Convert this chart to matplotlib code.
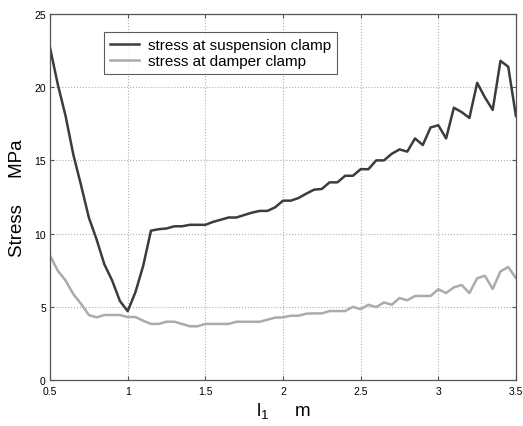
import numpy as np
import matplotlib
matplotlib.use('Agg')
import matplotlib.pyplot as plt

plt.rcParams['font.family'] = ['Liberation Sans', 'DejaVu Sans']

# span length l1 (m), sampled every 0.05 m (last point lies past the axis edge)
l1 = np.round(np.arange(0.5, 3.5501, 0.05), 2)

suspension = [22.7, 20.2, 18.05, 15.4, 13.3, 11.1, 9.6, 7.9, 6.8, 5.4,
              4.7, 6.0, 7.8, 10.2, 10.3, 10.35, 10.5, 10.5, 10.6, 10.6,
              10.6, 10.8, 10.95, 11.1, 11.1, 11.27, 11.43, 11.55, 11.55, 11.8,
              12.25, 12.25, 12.43, 12.73, 13.0, 13.05, 13.5, 13.5, 13.95, 13.95,
              14.4, 14.4, 15.0, 15.0, 15.45, 15.75, 15.6, 16.5, 16.05, 17.25,
              17.4, 16.5, 18.6, 18.3, 17.9, 20.3, 19.3, 18.45, 21.8, 21.4,
              18.0, 19.5]

damper = [8.5, 7.47, 6.8, 5.87, 5.2, 4.44, 4.28, 4.44, 4.44, 4.44,
          4.3, 4.3, 4.05, 3.83, 3.83, 3.98, 3.98, 3.83, 3.67, 3.67,
          3.83, 3.83, 3.83, 3.83, 3.98, 3.98, 3.98, 3.98, 4.12, 4.26,
          4.28, 4.39, 4.39, 4.53, 4.55, 4.55, 4.71, 4.71, 4.71, 5.0,
          4.83, 5.14, 4.98, 5.3, 5.14, 5.6, 5.44, 5.74, 5.74, 5.74,
          6.2, 5.94, 6.33, 6.49, 5.94, 6.95, 7.12, 6.22, 7.42, 7.72,
          6.95, 7.0]

xticks = [0.5, 1, 1.5, 2, 2.5, 3, 3.5]
xticklabels = ['0.5', '1', '1.5', '2', '2.5', '3', '3.5']
yticks = [0, 5, 10, 15, 20, 25]

fig = plt.figure(figsize=(5.23, 4.27), dpi=100)
ax = fig.add_axes([50/523, 46/427, 466/523, 366/427])

ax.plot(l1, suspension, color='#3c3c3c', lw=1.8, label='stress at suspension clamp')
ax.plot(l1, damper, color='#ababab', lw=1.8, label='stress at damper clamp')

ax.set_xlim(0.5, 3.5)
ax.set_ylim(0, 25)
ax.set_xticks(xticks)
ax.set_xticklabels(xticklabels)
ax.set_yticks(yticks)
ax.tick_params(direction='in', length=3, labelsize=7.5, top=True, right=True,
               color='#555555')
ax.tick_params(axis='x', pad=4.5)
ax.tick_params(axis='y', pad=3)
ax.grid(True, linestyle=':', color='#b0b0b0', lw=0.8)
for s in ax.spines.values():
    s.set_color('#555555')
    s.set_linewidth(0.9)

ax.set_xlabel('l$_{\\mathregular{1}}$     m', fontsize=13.5, labelpad=3)
ax.set_ylabel('Stress     MPa', fontsize=13.5, labelpad=6)

leg = ax.legend(loc='upper left', bbox_to_anchor=(0.116, 0.951), fontsize=11,
                frameon=True, fancybox=False, borderpad=0.4, handlelength=1.9,
                handletextpad=0.55, labelspacing=0.12, borderaxespad=0)
leg.get_frame().set_edgecolor('#333333')
leg.get_frame().set_linewidth(0.8)

fig.savefig('out.png', dpi=100)
